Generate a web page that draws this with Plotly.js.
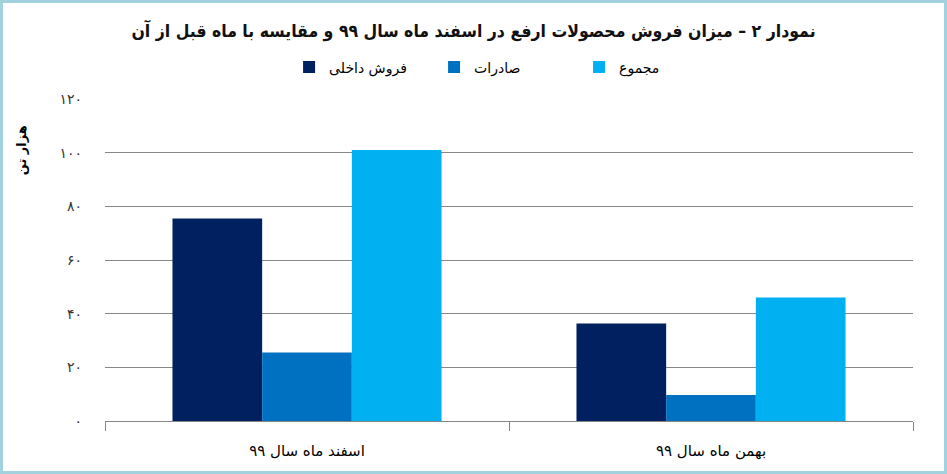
<!DOCTYPE html>
<html>
<head>
<meta charset="utf-8">
<script src="https://cdn.plot.ly/plotly-3.0.1.min.js"></script>
<style>
  html, body { margin: 0; padding: 0; background: #fff; }
  #wrap { position: relative; width: 947px; height: 474px; }
  #chart { width: 947px; height: 474px; }
  #frame { position: absolute; left: 0; top: 0; width: 947px; height: 474px; box-sizing: border-box; border: 3px solid #a3d2df; pointer-events: none; }
</style>
</head>
<body>
<div id="wrap"><div id="chart"></div><div id="frame"></div></div>
<script>
const categories = ["اسفند ماه سال ۹۹", "بهمن ماه سال ۹۹"];
const seriesNames = ["فروش داخلی", "صادرات", "مجموع"];
const domesticSales = [75.5, 36.3];
const exportsVals = [25.5, 9.7];
const totalVals = [101, 46];
const seriesColors = ["#002060", "#0070C0", "#00B0F0"];
const yTickVals = [0, 20, 40, 60, 80, 100, 120];
const yTickText = ["۰", "۲۰", "۴۰", "۶۰", "۸۰", "۱۰۰", "۱۲۰"];
const chartTitle = "نمودار ۲ – میزان فروش محصولات ارفع در اسفند ماه سال ۹۹ و مقایسه با ماه قبل از آن";
const yTitle = "هزار تن";

const FONT = "DejaVu Sans, Noto Sans, sans-serif";
const FONT_C = "DejaVu Sans Condensed, DejaVu Sans, sans-serif";
const values = [domesticSales, exportsVals, totalVals];
const data = values.map((v, i) => ({
  type: "bar",
  name: seriesNames[i],
  x: categories,
  y: v,
  marker: { color: seriesColors[i] },
  hoverinfo: "skip"
}));

const layout = {
  width: 947, height: 474,
  paper_bgcolor: "#ffffff", plot_bgcolor: "#ffffff",
  margin: { l: 105, r: 34, t: 99, b: 53 },
  barmode: "group",
  bargap: 0.334,
  bargroupgap: 0,
  font: { family: FONT, color: "#000" },
  title: {
    text: "<b>" + chartTitle + "</b>",
    x: 0.5, xref: "container", xanchor: "center",
    y: 0.935, yref: "container", yanchor: "middle",
    font: { size: 17.5, color: "#111", family: FONT_C }
  },
  showlegend: true,
  legend: {
    orientation: "h",
    x: 0.497, xanchor: "center",
    y: 1.098, yanchor: "middle",
    font: { size: 14, color: "#000", family: FONT },
    entrywidth: 100,
    itemclick: false, itemdoubleclick: false
  },
  xaxis: {
    type: "category",
    showline: true, linecolor: "#868686", linewidth: 1,
    ticks: "outside", tickson: "boundaries", ticklen: 9, tickcolor: "#868686",
    tickfont: { size: 15, color: "#000", family: FONT },
    ticklabelstandoff: 16,
    showgrid: false, zeroline: false, fixedrange: true
  },
  yaxis: {
    range: [0, 120],
    tickvals: yTickVals,
    ticktext: yTickText,
    tickfont: { size: 14, color: "#333", family: FONT },
    showgrid: true, gridcolor: "#888888", gridwidth: 1,
    zeroline: false, showline: false,
    ticks: "", ticklabelstandoff: 22,
    fixedrange: true
  },
  annotations: [{
    text: "<b>" + yTitle + "</b>",
    xref: "paper", yref: "paper",
    x: -0.103, y: 0.84,
    xanchor: "center", yanchor: "middle",
    textangle: -90, showarrow: false,
    font: { size: 13, color: "#000", family: FONT }
  }]
};

Plotly.newPlot("chart", data, layout, { displayModeBar: false, staticPlot: true });
</script>
</body>
</html>
